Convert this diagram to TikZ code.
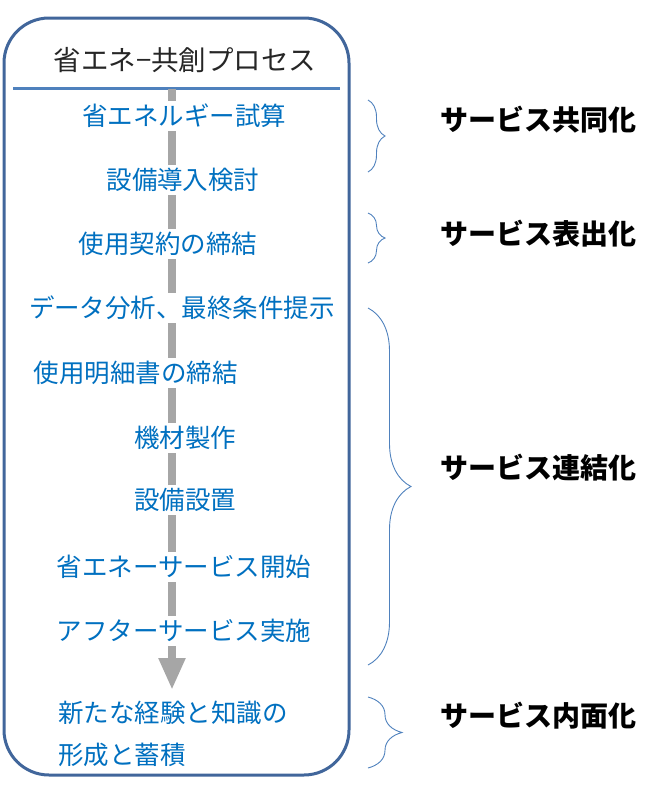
\documentclass[tikz,border=0pt]{standalone}
\usepackage{fontspec}
\setmainfont{Noto Sans CJK JP}
\usetikzlibrary{positioning,arrows.meta,decorations.pathreplacing}
\usepackage{xcolor}
\definecolor{stepblue}{RGB}{0,112,192}
\definecolor{frameblue}{RGB}{65,102,155}
\definecolor{ruleblue}{RGB}{79,129,189}
\definecolor{arrowgray}{RGB}{166,166,166}

\begin{document}
\begin{tikzpicture}[
    x=1pt, y=-1pt,
    stepnode/.style={fill=white, text=stepblue, font=\fontsize{25.5}{30}\selectfont, inner xsep=1pt, inner ysep=3pt},
    phase/.style={anchor=west, font=\fontsize{28}{32}\selectfont\bfseries},
    bracket/.style={draw=ruleblue, line width=0.9pt, decorate, decoration={brace, amplitude=#1}},
]
    \useasboundingbox (0,0) rectangle (650,804);

    % process frame
    \draw[frameblue, line width=3pt, rounded corners=45pt] (4,18) rectangle (349,775);
    \node[text=black!85, font=\fontsize{27.5}{30}\selectfont] (title) at (185,60) {省エネ−共創プロセス};
    \draw[ruleblue, line width=3pt] (13,88) -- (340,88);

    % flow arrow behind the steps
    \coordinate (arrtop) at (172,89);
    \coordinate (arrtip) at (172,690);
    \draw[arrowgray, line width=8pt, -{Triangle[width=25pt, length=32pt]}] (arrtop) -- (arrtip);

    \foreach \n/\x/\y/\t in {s1/184/116/省エネルギー試算, s2/183/180/設備導入検討,
        s3/168/244/使用契約の締結, s4/182/308/データ分析、最終条件提示,
        s5/136/373/使用明細書の締結, s6/185/438/機材製作, s7/185/500/設備設置,
        s8/184/567/省エネーサービス開始, s9/184/631/アフターサービス実施} {
        \node[stepnode] (\n) at (\x,\y) {\t};
    }
    \node[stepnode, anchor=west, align=left, font=\fontsize{25.5}{42}\selectfont] (s10) at (57,734)
        {新たな経験と知識の\\形成と蓄積};

    % phases
    \coordinate (b1t) at (368,100);  \coordinate (b1b) at (368,172);
    \coordinate (b2t) at (368,213);  \coordinate (b2b) at (368,263);
    \coordinate (b3t) at (368,308);  \coordinate (b3b) at (368,665);
    \coordinate (b4t) at (368,697);  \coordinate (b4b) at (368,768);
    \draw[bracket=17pt] (b1t) -- (b1b);
    \draw[bracket=17pt] (b2t) -- (b2b);
    \draw[bracket=43pt] (b3t) -- (b3b);
    \draw[bracket=34pt] (b4t) -- (b4b);

    \node[phase] (p1) at (437,120) {サービス共同化};
    \node[phase] (p2) at (437,234) {サービス表出化};
    \node[phase] (p3) at (437,468) {サービス連結化};
    \node[phase] (p4) at (437,716) {サービス内面化};
\end{tikzpicture}
\end{document}
